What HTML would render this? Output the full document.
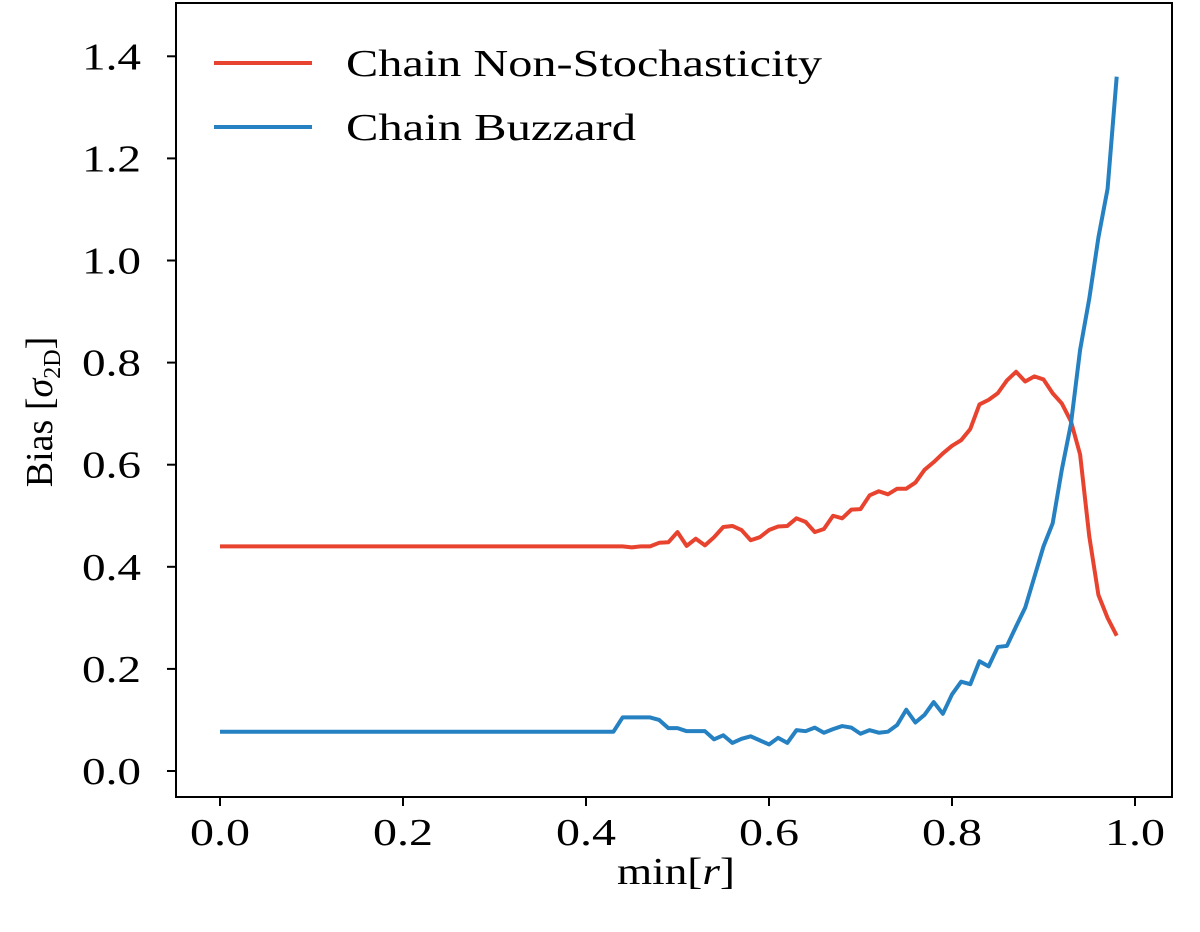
<!DOCTYPE html>
<html><head><meta charset="utf-8"><style>
body{margin:0;background:#fff}
svg{display:block;font-family:"Liberation Serif",serif}
</style></head><body>
<svg id="chart" width="1200" height="932" viewBox="0 0 1200 932">
<rect x="176" y="3" width="996" height="794" fill="none" stroke="#000" stroke-width="2"/>
<g id="xt"></g>
<g id="yt"></g>
<g id="series"></g>
<text x="676" y="884" font-size="38" text-anchor="middle" textLength="118" lengthAdjust="spacingAndGlyphs">min[<tspan font-style="italic">r</tspan>]</text>
<text transform="translate(52,412) rotate(-90)" font-size="38" text-anchor="middle">Bias [<tspan font-style="italic">σ</tspan><tspan font-size="24" dy="8">2D</tspan><tspan dy="-8">]</tspan></text>
<g>
<line x1="214" y1="63" x2="312" y2="63" stroke="#e8432f" stroke-width="4"/>
<text x="346" y="76" font-size="38" textLength="476" lengthAdjust="spacingAndGlyphs">Chain Non-Stochasticity</text>
<line x1="214" y1="127" x2="312" y2="127" stroke="#2581c1" stroke-width="4"/>
<text x="346" y="140" font-size="38" textLength="290" lengthAdjust="spacingAndGlyphs">Chain Buzzard</text>
</g>
</svg>
<script>
const xTicks=[0.0,0.2,0.4,0.6,0.8,1.0];
const yTicks=[0.0,0.2,0.4,0.6,0.8,1.0,1.2,1.4];
const redTail=[0.438,0.44,0.44,0.447,0.448,0.468,0.441,0.455,0.442,0.458,0.478,0.48,0.472,0.452,0.458,0.472,0.479,0.48,0.495,0.488,0.468,0.474,0.5,0.495,0.512,0.513,0.54,0.548,0.542,0.553,0.553,0.565,0.59,0.605,0.622,0.637,0.648,0.67,0.718,0.727,0.74,0.765,0.782,0.763,0.773,0.767,0.74,0.72,0.685,0.62,0.46,0.345,0.3,0.265];
const blueTail=[0.105,0.105,0.105,0.105,0.1,0.084,0.084,0.078,0.078,0.078,0.062,0.07,0.055,0.063,0.068,0.06,0.052,0.065,0.055,0.08,0.078,0.085,0.075,0.082,0.088,0.085,0.073,0.08,0.075,0.077,0.09,0.12,0.095,0.11,0.135,0.112,0.15,0.175,0.17,0.215,0.205,0.243,0.245,0.283,0.32,0.38,0.44,0.485,0.59,0.68,0.825,0.925,1.045,1.14,1.36];
const redValues=Array(45).fill(0.44).concat(redTail);
const blueValues=Array(44).fill(0.077).concat(blueTail);
const xs=(v)=>220+v*915;
const ys=(v)=>771-v*510.5;
const NS='http://www.w3.org/2000/svg';
const xt=document.getElementById('xt'),yt=document.getElementById('yt'),sg=document.getElementById('series');
xTicks.forEach(t=>{
 const l=document.createElementNS(NS,'line');
 
 
 l.setAttribute('x1',xs(t));l.setAttribute('x2',xs(t));l.setAttribute('y1',797);l.setAttribute('y2',806);l.setAttribute('stroke','#000');l.setAttribute('stroke-width',2);
 xt.appendChild(l);
 const tx=document.createElementNS(NS,'text');
 
 
 tx.setAttribute('x',xs(t));tx.setAttribute('y',845);tx.setAttribute('font-size','38');tx.setAttribute('text-anchor','middle');
 tx.setAttribute('textLength','60');tx.setAttribute('lengthAdjust','spacingAndGlyphs');
 tx.textContent=t.toFixed(1);xt.appendChild(tx);
});
yTicks.forEach(t=>{
 const l=document.createElementNS(NS,'line');
 
 
 l.setAttribute('x1',167);l.setAttribute('x2',176);l.setAttribute('y1',ys(t));l.setAttribute('y2',ys(t));l.setAttribute('stroke','#000');l.setAttribute('stroke-width',2);
 yt.appendChild(l);
 const tx=document.createElementNS(NS,'text');
 
 
 tx.setAttribute('x',82);tx.setAttribute('y',ys(t)+13);tx.setAttribute('font-size','38');
 tx.setAttribute('textLength','59');tx.setAttribute('lengthAdjust','spacingAndGlyphs');
 tx.textContent=t.toFixed(1);yt.appendChild(tx);
});
function line(vals,color,name){
 const p=document.createElementNS(NS,'polyline');
 
 
 p.setAttribute('points',vals.map((v,i)=>xs(i*0.01)+','+ys(v)).join(' '));
 p.setAttribute('fill','none');p.setAttribute('stroke',color);p.setAttribute('stroke-width',4);p.setAttribute('stroke-linejoin','round');
 sg.appendChild(p);
}
line(redValues,'#e8432f','non-stochasticity-line');
line(blueValues,'#2581c1','buzzard-line');
</script>
</body></html>
